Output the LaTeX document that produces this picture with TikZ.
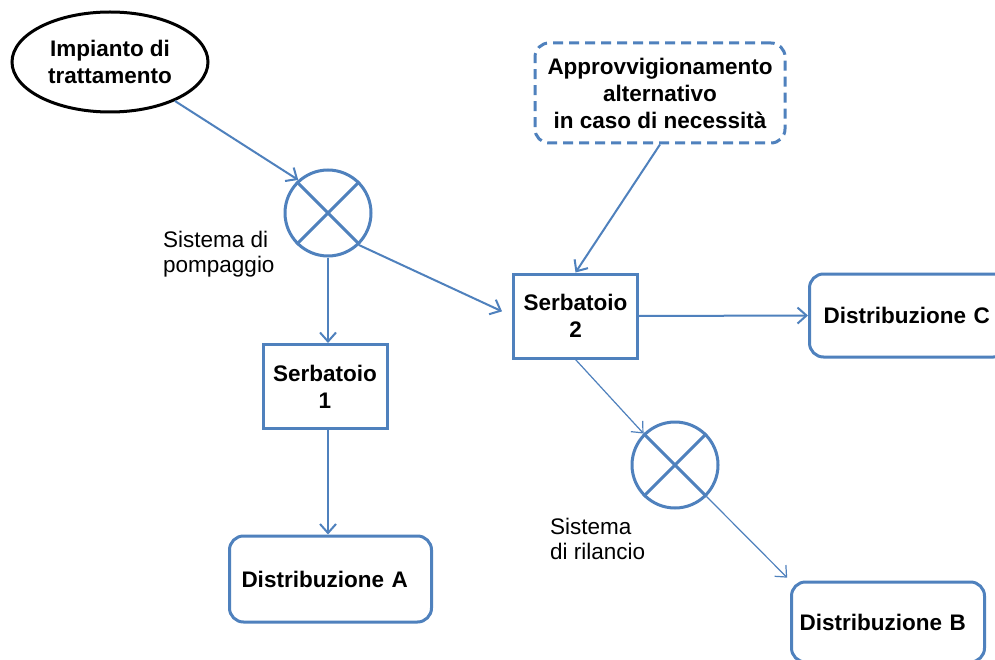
\documentclass[tikz,border=0pt]{standalone}
\usepackage{fontspec}
\setmainfont{Liberation Sans}
\usetikzlibrary{arrows.meta,shapes.geometric}
\definecolor{ob}{HTML}{4F81BD}
\begin{document}
\begin{tikzpicture}[x=1pt,y=-1pt,
  lbl/.style={font=\fontsize{22.5}{25}\selectfont, align=left, inner sep=0pt},
  boldtxt/.style={font=\fontsize{22.5}{27}\selectfont\bfseries},
  tank/.style={boldtxt, draw=ob, line width=3pt, minimum width=124pt, minimum height=84pt, align=center, inner sep=0pt},
  dist/.style={boldtxt, draw=ob, line width=3pt, rounded corners=14pt, align=left, anchor=west},
  pump/.style={circle, draw=ob, line width=3pt, minimum size=86pt, inner sep=0pt},
  cross/.style={draw=ob, line width=3pt},
  flow/.style={draw=ob, line width=2pt, -{Straight Barb[length=9pt,width=16pt]}},
  thinflow/.style={flow, line width=1.2pt}]
\path[use as bounding box, clip] (0,0) rectangle (995,660);
\fill[white] (0,0) rectangle (995,660);

\node[ellipse, draw=black, line width=3pt, minimum width=196pt, minimum height=100pt,
      boldtxt, align=center, inner sep=0pt] (imp) at (110,62) {Impianto di\\trattamento};
\node[draw=ob, dash pattern=on 10pt off 6pt, line width=3pt, rounded corners=14pt,
      minimum width=250pt, minimum height=100pt, boldtxt, align=center, inner sep=0pt]
      (alt) at (660,93) {Approvvigionamento\\alternativo\\in caso di necessità};

\node[pump] (p1) at (328,213) {};
\draw[cross] (p1.north west) -- (p1.south east) (p1.north east) -- (p1.south west);
\node[pump] (p2) at (675,465) {};
\draw[cross] (p2.north west) -- (p2.south east) (p2.north east) -- (p2.south west);

\node[tank] (s1) at (325,386.5) {Serbatoio\\1};
\node[tank] (s2) at (575.5,316) {Serbatoio\\2};

\node[dist, minimum height=86pt, inner xsep=12pt, text width=178pt] (dA) at (228,579) {Distribuzione A};
\node[dist, minimum height=83pt, inner xsep=14pt, text width=170pt] (dC) at (808,315.5) {Distribuzione C};
\node[dist, minimum height=80pt, inner xsep=8pt, text width=177pt] (dB) at (790,622) {Distribuzione B};

\node[lbl, anchor=north west] (lp) at (163,231) {Sistema di\\pompaggio};
\node[lbl, anchor=north west] (lr) at (550,518) {Sistema\\di rilancio};

\draw[flow] (imp.-31) -- (p1.132);
\draw[flow] (p1.south) -- (p1.south |- s1.north);
\draw[flow, shorten >=11pt] (p1.-46) -- (s2.west);
\draw[flow] (alt.south) -- (s2.north);
\draw[flow] (s2.east) -- (dC.west);
\draw[flow] (p1.south |- s1.south) -- (p1.south |- dA.north);
\draw[thinflow] (s2.south) -- (p2.north west);
\draw[thinflow, shorten >=4pt] (p2.south east) -- (dB.north west);
\end{tikzpicture}
\end{document}
